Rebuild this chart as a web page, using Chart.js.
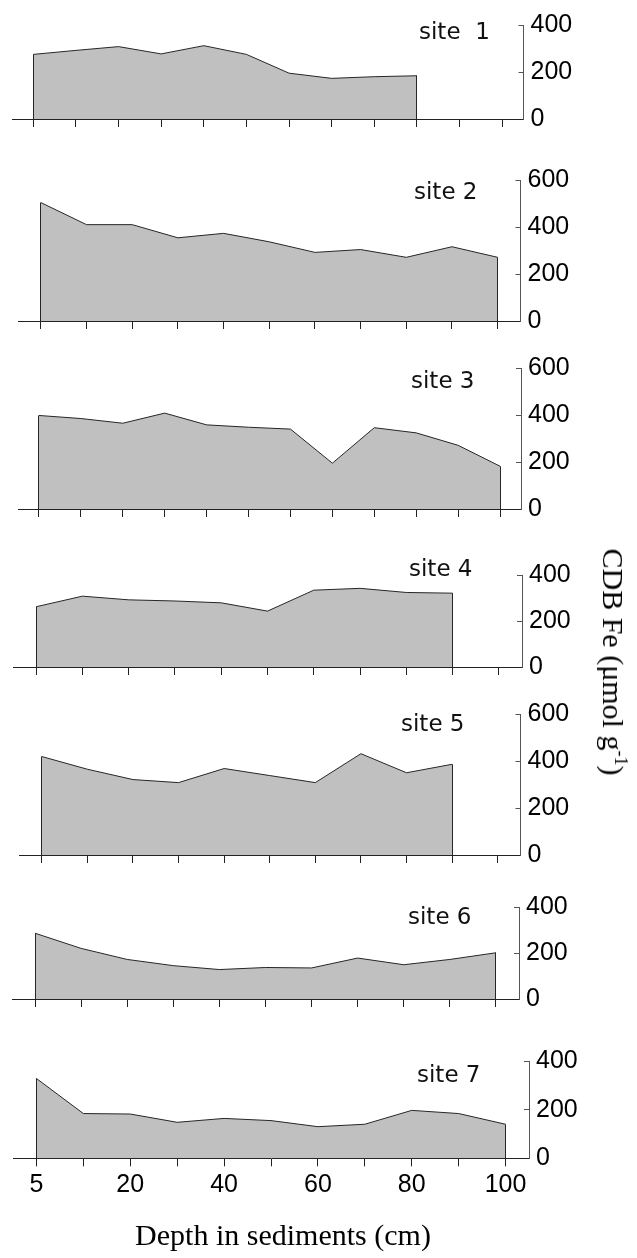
<!DOCTYPE html>
<html>
<head>
<meta charset="utf-8">
<script src="https://cdn.jsdelivr.net/npm/chart.js@4.4.1/dist/chart.umd.min.js"></script>
<style>
  html, body { margin: 0; padding: 0; background: #fff; }
  #fig { position: relative; width: 637px; height: 1258px; overflow: hidden; background: #fff; }
  #fig canvas { position: absolute; left: 0; }
  .site { position: absolute; font-family: 'DejaVu Sans', sans-serif; font-size: 23px; line-height: 23px; white-space: pre; color: #111; z-index: 5; }
  .ttl { position: absolute; font-family: 'Liberation Serif', 'Times New Roman', serif; font-size: 30px; line-height: 30px; color: #000; white-space: nowrap; z-index: 5; transform: translate(-50%, -50%); }
  .ttl sup { font-size: 0.6em; line-height: 0; vertical-align: 0.65em; }
  #ytitle { transform: translate(-50%, -50%) rotate(90deg); }
</style>
</head>
<body>
<div id="fig"></div>
<script>
// Sampling depths (cm) used as the category axis
const depths11 = ['5', '10', '20', '30', '40', '50', '60', '70', '80', '90', '100'];
const depths12 = ['5', '10', '20', '30', '40', '50', '60', '70', '80', '90', '100', '110'];

// CDB-extractable Fe (µmol g-1) down each core
const site1 = [275, 292, 308, 277, 312, 275, 195, 173, 180, 184, null, null];
const site2 = [504, 410, 410, 354, 373, 337, 292, 304, 271, 316, 271];
const site3 = [398, 385, 365, 408, 358, 348, 340, 195, 346, 324, 271, 182];
const site4 = [262, 308, 292, 287, 279, 243, 334, 342, 324, 321, null];
const site5 = [419, 365, 321, 308, 368, 338, 308, 431, 350, 386, null];
const site6 = [286, 220, 172, 145, 128, 137, 135, 178, 149, 172, 201];
const site7 = [328, 184, 182, 148, 164, 155, 130, 140, 197, 184, 140];

// Panel names and y-axis ranges
const siteNames = ['site  1', 'site 2', 'site 3', 'site 4', 'site 5', 'site 6', 'site 7'];
const yMaxima = [400, 600, 600, 400, 600, 400, 400];
const yStep = 200;

// Depth labels printed under the bottom panel (every other category)
const depthTickEvery = 2;

const seriesList = [site1, site2, site3, site4, site5, site6, site7];
const labelList = [depths12, depths11, depths12, depths11, depths11, depths11, depths11];

// Plot-area frame of each panel on the page (px) and where its name sits
const frames = [
  { top: 20.7,  bottom: 123.3,  left: 12, right: 523.5, tagX: 419, tagY: 31 },
  { top: 175.0, bottom: 325.7,  left: 18, right: 520.5, tagX: 414, tagY: 191 },
  { top: 363.3, bottom: 514.0,  left: 18, right: 521,   tagX: 411, tagY: 380 },
  { top: 570.0, bottom: 671.7,  left: 13, right: 522,   tagX: 409, tagY: 568 },
  { top: 709.3, bottom: 860.0,  left: 19, right: 520.5, tagX: 401, tagY: 723 },
  { top: 902.3, bottom: 1003.3, left: 12, right: 519,   tagX: 408, tagY: 916 },
  { top: 1056.7, bottom: 1158.3, left: 13, right: 529,  tagX: 417, tagY: 1074 }
];

const PAGE_W = 637;
const FILL = '#c0c0c0';
const LINE = '#262626';
const AXIS_X = '#222222';
const AXIS_Y = '#555555';
const TICK_FONT = { family: "'Liberation Sans', Arial, sans-serif", size: 25 };

// Closes the filled profile with vertical sides down to the zero line
const areaEdges = {
  id: 'areaEdges',
  afterDatasetsDraw(chart) {
    const meta = chart.getDatasetMeta(0);
    const vals = chart.data.datasets[0].data;
    let first = -1, last = -1;
    vals.forEach((v, i) => { if (v !== null) { if (first < 0) first = i; last = i; } });
    if (first < 0) return;
    const base = chart.scales.y.getPixelForValue(0);
    const ctx = chart.ctx;
    ctx.save();
    ctx.strokeStyle = LINE;
    ctx.lineWidth = 1;
    [first, last].forEach(i => {
      const pt = meta.data[i];
      const x = Math.round(pt.x - 0.5) + 0.5;
      ctx.beginPath();
      ctx.moveTo(x, pt.y);
      ctx.lineTo(x, base);
      ctx.stroke();
    });
    ctx.restore();
  }
};

const fig = document.getElementById('fig');

frames.forEach((f, k) => {
  const isLast = k === frames.length - 1;
  const padTop = 22;
  const xAxisH = isLast ? 60 : 10;
  const padBottom = isLast ? 4 : 12;
  const canvasTop = Math.floor(f.top) - padTop;
  const topPad = f.top - canvasTop;
  const height = Math.ceil(f.bottom - canvasTop + xAxisH + padBottom);
  const bottomPad = height - (f.bottom - canvasTop) - xAxisH;

  const canvas = document.createElement('canvas');
  canvas.width = PAGE_W;
  canvas.height = height;
  canvas.style.top = canvasTop + 'px';
  canvas.style.width = PAGE_W + 'px';
  canvas.style.height = height + 'px';
  fig.appendChild(canvas);

  const labels = labelList[k];

  new Chart(canvas, {
    type: 'line',
    data: {
      labels: labels,
      datasets: [{
        data: seriesList[k],
        fill: 'origin',
        backgroundColor: FILL,
        borderColor: LINE,
        borderWidth: 1,
        pointRadius: 0,
        tension: 0,
        spanGaps: false
      }]
    },
    options: {
      responsive: false,
      maintainAspectRatio: false,
      animation: false,
      devicePixelRatio: 1,
      events: [],
      layout: { padding: { top: topPad, bottom: bottomPad, left: f.left, right: 0 } },
      plugins: { legend: { display: false }, tooltip: { enabled: false }, title: { display: false } },
      scales: {
        x: {
          type: 'category',
          offset: true,
          z: 1,
          grid: { display: true, drawOnChartArea: false, drawTicks: true, tickLength: 8, color: AXIS_X, offset: false, lineWidth: 1 },
          border: { display: true, color: AXIS_X, width: 1 },
          ticks: {
            display: isLast,
            autoSkip: false,
            maxRotation: 0,
            minRotation: 0,
            padding: 4,
            color: '#000',
            font: TICK_FONT,
            callback: (v, i) => (i % depthTickEvery === 0 ? labels[i] : '')
          },
          afterFit: s => { s.height = xAxisH; }
        },
        y: {
          position: 'right',
          min: 0,
          max: yMaxima[k],
          z: 1,
          grid: { display: true, drawOnChartArea: false, drawTicks: true, tickLength: -5, color: AXIS_Y, lineWidth: 1 },
          border: { display: true, color: AXIS_Y, width: 1 },
          ticks: { stepSize: yStep, padding: 12, color: '#000', font: TICK_FONT },
          afterFit: s => { s.width = PAGE_W - f.right; }
        }
      }
    },
    plugins: [areaEdges]
  });

  const tag = document.createElement('div');
  tag.className = 'site';
  tag.textContent = siteNames[k];
  tag.style.left = f.tagX + 'px';
  tag.style.top = (f.tagY - 11.5) + 'px';
  fig.appendChild(tag);
});

// Axis titles
const xt = document.createElement('div');
xt.className = 'ttl';
xt.textContent = 'Depth in sediments (cm)';
xt.style.left = '283px';
xt.style.top = '1235px';
fig.appendChild(xt);

const yt = document.createElement('div');
yt.className = 'ttl';
yt.id = 'ytitle';
yt.innerHTML = 'CDB Fe (μmol g<sup>-1</sup>)';
yt.style.left = '613px';
yt.style.top = '662px';
fig.appendChild(yt);
</script>
</body>
</html>
